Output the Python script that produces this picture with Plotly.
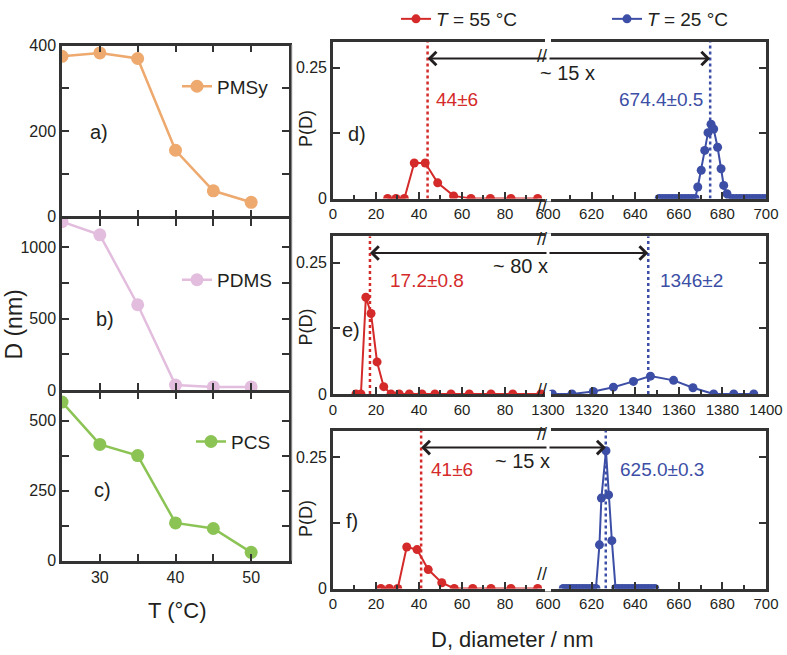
import plotly.graph_objects as go

# left column: mean diameter vs temperature
T_C = [25, 30, 35, 40, 45, 50]
D_PMSy = [375, 383, 370, 155, 60, 33]
D_PDMS = [1180, 1088, 598, 35, 22, 22]
D_PCS = [566, 415, 375, 135, 115, 30]

# right column: size distributions, T = 55 C (hot) and T = 25 C (cold)
d_hot_D = [25.4, 29.3, 33.2, 37.8, 42.9, 48.7, 56.1, 64.2, 73.2, 82.8, 95.2]
d_hot_P = [0, 0, 0, 0.068, 0.068, 0.030, 0.005, 0, 0, 0, 0]
d_cold_D = [651, 652.5, 654, 655.5, 657, 658.5, 660, 661.5, 663, 664.5, 666, 667.5,
            668.7, 670.3, 671.9, 673.4, 674.8, 676.0, 677.8, 679.4, 680.6, 682.1,
            683.5, 685, 686.5, 688, 689.5, 691, 692.5, 694, 695.5, 697, 698.5, 700]
d_cold_P = [0, 0, 0, 0, 0, 0, 0, 0, 0, 0, 0, 0,
            0.022, 0.054, 0.092, 0.126, 0.142, 0.133, 0.098, 0.057, 0.025, 0.009,
            0, 0, 0, 0, 0, 0, 0, 0, 0, 0, 0, 0]

e_hot_D = [10.7, 13.0, 15.3, 17.7, 20.5, 23.6, 27.0, 30.8, 35.5, 41.4, 47.4, 54.9, 63.4, 73.5, 83.6, 96.7]
e_hot_P = [0, 0, 0.184, 0.153, 0.061, 0.014, 0, 0, 0, 0, 0, 0, 0, 0, 0, 0]
e_cold_D = [1302, 1311, 1320.8, 1330, 1339.2, 1347, 1357.6, 1366.5, 1376, 1385.2, 1394.4]
e_cold_P = [0, 0, 0.005, 0.013, 0.024, 0.034, 0.026, 0.012, 0, 0, 0]

f_hot_D = [22.3, 26.2, 30.1, 34.3, 39.1, 44.3, 50.6, 56.4, 65.0, 73.5, 82.8, 95.2]
f_hot_P = [0, 0, 0, 0.079, 0.074, 0.036, 0.011, 0, 0, 0, 0, 0]
f_cold_D = [607, 608.5, 610, 611.5, 613, 614.5, 616, 617.5, 619, 620.5, 622,
            623.6, 624.5, 626.6, 627.8, 629.3,
            631, 632.5, 634, 635.5, 637, 638.5, 640, 641.5, 643, 644.5, 646, 647.5, 649]
f_cold_P = [0, 0, 0, 0, 0, 0, 0, 0, 0, 0, 0,
            0.083, 0.172, 0.262, 0.178, 0.091,
            0, 0, 0, 0, 0, 0, 0, 0, 0, 0, 0, 0, 0]

d_means = [44, 674.4]
e_means = [17.2, 1346]
f_means = [41, 626.5]
d_labels = ['44±6', '674.4±0.5', '~ 15 x']
e_labels = ['17.2±0.8', '1346±2', '~ 80 x']
f_labels = ['41±6', '625.0±0.3', '~ 15 x']

RED = '#D42A2A'
BLUE = '#3C4EA5'
INK = '#231F20'
AX = '#333333'
FONT = 'Liberation Sans, Arial, sans-serif'

fig = go.Figure()

left = [('PMSy', D_PMSy, '#EDA96E', 'legend2'),
        ('PDMS', D_PDMS, '#E3BDDE', 'legend3'),
        ('PCS', D_PCS, '#8CC355', 'legend4')]
for i, (name, vals, col, leg) in enumerate(left, start=1):
    s = '' if i == 1 else str(i)
    fig.add_trace(go.Scatter(x=T_C, y=vals, name=name, mode='lines+markers',
                             xaxis='x' + s, yaxis='y' + s, legend=leg,
                             line=dict(color=col, width=2.5),
                             marker=dict(size=13, color=col)))

right = [(d_hot_D, d_hot_P, d_cold_D, d_cold_P, 4),
         (e_hot_D, e_hot_P, e_cold_D, e_cold_P, 6),
         (f_hot_D, f_hot_P, f_cold_D, f_cold_P, 8)]
for hx, hy, cx, cy, n in right:
    fig.add_trace(go.Scatter(x=hx, y=hy, name='<i>T</i> = 55 °C', mode='lines+markers',
                             xaxis='x%d' % n, yaxis='y%d' % n, showlegend=(n == 4), legend='legend',
                             line=dict(color=RED, width=2), marker=dict(size=9, color=RED)))
    fig.add_trace(go.Scatter(x=cx, y=cy, name='<i>T</i> = 25 °C', mode='lines+markers',
                             xaxis='x%d' % (n + 1), yaxis='y%d' % (n + 1), showlegend=(n == 4),
                             legend='legend5',
                             line=dict(color=BLUE, width=2), marker=dict(size=9, color=BLUE)))

tick_font = dict(family=FONT, size=16, color=INK)
base = dict(showline=True, linecolor=AX, linewidth=2.5, ticks='inside', tickcolor=AX,
            tickwidth=2, ticklen=7, showgrid=False, zeroline=False, tickfont=tick_font,
            automargin=False)

LX = [0.0788, 0.3672]
gap = 2.5 / 655
LY = [[0.6748, 0.9374], [0.4076, 0.6748 - gap], [0.1450, 0.4076 - gap]]
ly_ranges = [[0, 400], [0, 1200], [0, 600]]
ly_ticks = [([0, 100, 200, 300, 400], ['0', '', '200', '', '400']),
            ([0, 250, 500, 750, 1000], ['0', '', '500', '', '1000']),
            ([0, 125, 250, 375, 500], ['0', '', '250', '', '500'])]
layout = {}
for i in range(3):
    s = '' if i == 0 else str(i + 1)
    layout['xaxis' + s] = dict(base, domain=LX, range=[25, 55], anchor='y' + s, mirror='allticks',
                               tickvals=[25, 30, 35, 40, 45, 50, 55],
                               ticktext=['', '30', '', '40', '', '50', ''],
                               showticklabels=(i == 2))
    layout['yaxis' + s] = dict(base, domain=LY[i], range=ly_ranges[i], anchor='x' + s,
                               mirror='allticks', tickvals=ly_ticks[i][0], ticktext=ly_ticks[i][1])

RXL = [0.4231, 0.6963]
RXR = [0.6963, 0.9733]
RY = [[0.7023, 0.9435], [0.4015, 0.6443], [0.1023, 0.3450]]
right_ranges = [[600, 700], [1300, 1400], [600, 700]]
rfont = dict(family=FONT, size=15, color=INK)
for k, n in enumerate([4, 6, 8]):
    lo, hi = right_ranges[k]
    layout['xaxis%d' % n] = dict(base, domain=RXL, range=[0, 100], anchor='y%d' % n, mirror=True,
                                 tickvals=[0, 20, 40, 60, 80], tickfont=rfont,
                                 minor=dict(tickvals=[10, 30, 50, 70, 90], ticks='inside',
                                            ticklen=4, tickwidth=2, tickcolor=AX))
    layout['xaxis%d' % (n + 1)] = dict(base, domain=RXR, range=[lo, hi], anchor='y%d' % (n + 1),
                                       mirror=True, tickvals=list(range(lo, hi + 1, 20)), tickfont=rfont,
                                       minor=dict(tickvals=list(range(lo + 10, hi, 20)), ticks='inside',
                                                  ticklen=4, tickwidth=2, tickcolor=AX))
    layout['yaxis%d' % n] = dict(base, domain=RY[k], range=[0, 0.3], anchor='x%d' % n,
                                 tickvals=[0, 0.125, 0.25], ticktext=['0', '', '0.25'])
    layout['yaxis%d' % (n + 1)] = dict(base, domain=RY[k], range=[0, 0.3], anchor='x%d' % (n + 1),
                                       side='right', tickvals=[0.125, 0.25], showticklabels=False)

ann = []
shapes = []


def txt(x, y, text, xref='paper', yref='paper', size=20, color=INK, xanchor='center', angle=0):
    ann.append(dict(x=x, y=y, xref=xref, yref=yref, text=text, showarrow=False, xanchor=xanchor,
                    yanchor='middle', textangle=angle, font=dict(family=FONT, size=size, color=color)))


# left panel labels and titles
txt(29.9, 198, 'a)', 'x', 'y', 20)
txt(30.7, 500, 'b)', 'x2', 'y2', 20)
txt(30.3, 251, 'c)', 'x3', 'y3', 20)
txt(14 / 787, 1 - 322 / 655, 'D (nm)', size=23, angle=-90)
txt(177 / 787, 1 - 610 / 655, 'T (°C)', size=22)
txt(512 / 787, 1 - 639 / 655, 'D, diameter / nm', size=22)

panels = [(4, d_means, d_labels, 'd)', [11, 0.123], [47, 0.19], [672.2, 0.19, 'right'], ['x5', 609, 0.24], 1 - 125 / 655),
          (6, e_means, e_labels, 'e)', [8.4, 0.121], [25.4, 0.216], [1350.6, 0.216, 'left'], ['x6', 87.4, 0.244], 1 - 325 / 655),
          (8, f_means, f_labels, 'f)', [8.8, 0.129], [44.8, 0.227], [632.3, 0.227, 'left'], ['x8', 88.2, 0.242], 1 - 518 / 655)]
for k, (n, means, labels, tag, tagpos, hotpos, coldpos, factpos, pdy) in enumerate(panels):
    xl, xr, yl, yr = 'x%d' % n, 'x%d' % (n + 1), 'y%d' % n, 'y%d' % (n + 1)
    txt(tagpos[0], tagpos[1], tag, xl, yl, 20)
    txt(306 / 787, pdy, 'P(D)', size=18, angle=-90)
    txt(hotpos[0], hotpos[1], labels[0], xl, yl, 19, RED, 'left')
    txt(coldpos[0], coldpos[1], labels[1], xr, yr, 19, BLUE, coldpos[2])
    fy = factpos[0].replace('x', 'y')
    txt(factpos[1], factpos[2], labels[2], factpos[0], fy, 20)
    shapes.append(dict(type='line', xref=xl, yref=yl, x0=means[0], x1=means[0], y0=0, y1=0.3,
                       line=dict(color=RED, width=2.5, dash='dot')))
    shapes.append(dict(type='line', xref=xr, yref=yr, x0=means[1], x1=means[1], y0=0, y1=0.3,
                       line=dict(color=BLUE, width=2.5, dash='dot')))
    ay = 0.268
    ann.append(dict(x=means[0], y=ay, xref=xl, yref=yl, ax=100, ay=ay, axref=xl, ayref=yl, text='',
                    showarrow=True, arrowhead=4, arrowsize=1.3, arrowwidth=2, arrowcolor=INK, standoff=0))
    ann.append(dict(x=means[1], y=ay, xref=xr, yref=yr, ax=right_ranges[k][0], ay=ay, axref=xr, ayref=yr,
                    text='', showarrow=True, arrowhead=4, arrowsize=1.3, arrowwidth=2, arrowcolor=INK,
                    standoff=0))
    # axis-break marks on the top and bottom frame lines
    for j, yy in enumerate(RY[k]):
        shapes.append(dict(type='rect', xref='paper', yref='paper', layer='above',
                           x0=RXL[1] - 3 / 787, x1=RXL[1] + 3 / 787,
                           y0=yy - 3 / 655, y1=yy + 3 / 655,
                           fillcolor='white', line=dict(width=0)))
        ann.append(dict(x=RXL[1], y=yy, xref='paper', yref='paper', text='//', showarrow=False,
                        borderpad=0, yshift=(4 if j == 0 else -3),
                        font=dict(family=FONT, size=18, color=INK)))

shapes.append(dict(type='line', xref='paper', yref='paper', x0=292 / 787, x1=292 / 787,
                   y0=1 - 40 / 655, y1=1 - 560 / 655, line=dict(color='#D0D0D0', width=1)))

leg_font = dict(family=FONT, size=19, color=INK)
clear = 'rgba(0,0,0,0)'
fig.update_layout(
    template='none',
    width=787, height=655, margin=dict(l=0, r=0, t=0, b=0),
    paper_bgcolor='white', plot_bgcolor='white',
    font=dict(family=FONT, color=INK),
    annotations=ann, shapes=shapes,
    legend=dict(x=396 / 787, y=1 - 14 / 655, xanchor='left', yanchor='middle', font=leg_font, bgcolor=clear),
    legend5=dict(x=607 / 787, y=1 - 14 / 655, xanchor='left', yanchor='middle', font=leg_font, bgcolor=clear),
    legend2=dict(x=177 / 787, y=1 - 82 / 655, xanchor='left', yanchor='middle', font=leg_font, bgcolor=clear),
    legend3=dict(x=177 / 787, y=1 - 277 / 655, xanchor='left', yanchor='middle', font=leg_font, bgcolor=clear),
    legend4=dict(x=191 / 787, y=1 - 440 / 655, xanchor='left', yanchor='middle', font=leg_font, bgcolor=clear),
    **layout
)

fig.write_html('out.html', config={'displayModeBar': False},
               post_script="document.body.style.margin='0';")
